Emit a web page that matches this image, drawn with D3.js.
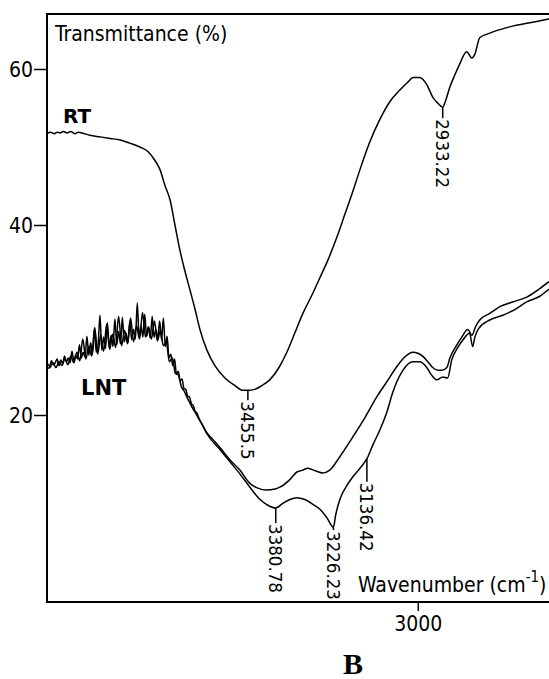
<!DOCTYPE html>
<html lang="en">
<head>
    <meta charset="UTF-8">
    <title>IR spectrum B</title>
    <script src="https://d3js.org/d3.v7.min.js"></script>
    <style>
        body { margin: 0; background: #fff; }
        text { font-family: "DejaVu Sans Condensed", "DejaVu Sans", sans-serif; font-stretch: condensed; fill: #000; }
        text.tag { font-family: "DejaVu Sans", sans-serif; font-stretch: normal; font-weight: bold; }
    </style>
</head>
<body>
<div id="chart"></div>
<script>
    // ---- data (wavenumber cm-1, transmittance %) ----
    const xTicks = [3000];
    const yTicks = [20, 40, 60];

    const rtSpectrum = [
        [3994, 51.7], [3985, 51.9], [3975, 51.7], [3966, 51.9], [3959, 51.8], [3950, 52.0],
        [3940, 51.8], [3930, 52.0], [3919, 51.7], [3910, 51.9], [3900, 51.8],
        [3879, 51.5], [3852, 51.3], [3825, 51.1], [3798, 50.9], [3772, 50.5], [3745, 50.0],
        [3723, 49.4], [3705, 48.3], [3691, 47.1], [3678, 45.1], [3664, 43.2], [3651, 40.0],
        [3638, 37.4], [3624, 35.1], [3611, 33.2], [3597, 31.1], [3584, 29.0], [3565, 26.8],
        [3544, 25.2], [3517, 23.9], [3490, 23.1], [3469, 22.6], [3455.5, 22.6], [3437, 22.7],
        [3418, 23.1], [3397, 23.7], [3372, 25.0], [3351, 26.6], [3330, 28.6], [3308, 30.7],
        [3284, 32.6], [3263, 34.4], [3241, 36.3], [3217, 38.7], [3196, 41.3], [3177, 43.9],
        [3155, 47.1], [3129, 50.6], [3102, 53.5], [3075, 55.8], [3048, 57.3], [3027, 58.3],
        [3013, 58.9], [2995, 58.9], [2976, 58.0], [2960, 56.4], [2946, 55.6], [2933.2, 55.1],
        [2925, 56.0], [2914, 57.7], [2901, 59.2], [2888, 60.6], [2869, 62.2], [2855, 61.4],
        [2847, 61.9], [2834, 64.0], [2807, 64.6], [2754, 65.4], [2692, 66.0], [2649, 66.4],
        [2620, 66.7]
    ];

    const lntUpper = [
        [3992, 25.4], [3987, 25.1], [3982, 25.7], [3977, 25.3], [3972, 25.5], [3967, 25.9],
        [3962, 25.2], [3957, 25.8], [3952, 25.4], [3947, 26.2], [3942, 25.6], [3937, 26.0],
        [3932, 25.5], [3927, 26.7], [3922, 25.7], [3917, 26.3], [3912, 25.9], [3907, 27.4],
        [3902, 26.0], [3897, 26.6], [3892, 26.1], [3887, 28.3], [3882, 26.3], [3877, 27.6],
        [3872, 26.4], [3867, 29.1], [3862, 26.6], [3857, 27.4], [3852, 30.5], [3847, 26.8],
        [3842, 28.2], [3837, 27.0], [3832, 29.7], [3827, 27.1], [3822, 28.4], [3817, 27.2],
        [3812, 30.1], [3807, 27.4], [3802, 28.8], [3797, 27.5], [3792, 30.3], [3787, 27.7],
        [3782, 28.6], [3777, 27.6], [3772, 29.9], [3767, 27.9], [3762, 29.0], [3757, 28.0],
        [3752, 31.8], [3747, 28.1], [3742, 29.4], [3737, 28.2], [3732, 30.6], [3727, 28.3],
        [3722, 29.2], [3717, 28.1], [3712, 30.4], [3707, 28.2], [3702, 29.0], [3697, 28.0],
        [3692, 29.9], [3687, 27.9], [3682, 30.2], [3677, 27.2], [3672, 28.3], [3667, 26.0],
        [3662, 26.4], [3657, 25.2], [3652, 25.9], [3647, 24.3], [3642, 24.6], [3637, 23.6],
        [3632, 23.8], [3627, 22.8], [3622, 22.7], [3617, 22.0], [3612, 21.9], [3607, 21.2],
        [3602, 21.0], [3597, 20.4], [3592, 20.2], [3587, 19.7], [3582, 19.3],
        [3565, 18.1], [3549, 17.4], [3531, 16.6], [3504, 15.3], [3477, 14.2], [3450, 12.8],
        [3429, 12.3], [3405, 12.1], [3383, 12.2], [3370, 12.4], [3343, 13.2], [3324, 14.0],
        [3308, 14.2], [3295, 14.4], [3273, 14.1], [3255, 13.9], [3236, 14.2], [3209, 15.6],
        [3174, 17.7], [3142, 19.7], [3110, 21.9], [3083, 23.5], [3056, 25.1], [3035, 26.1],
        [3013, 26.6], [3000, 26.5], [2987, 26.2], [2973, 25.6], [2960, 25.0], [2946, 24.7],
        [2936, 24.7], [2922, 25.0], [2914, 26.0], [2898, 27.2], [2882, 28.2], [2866, 29.0],
        [2855, 28.4], [2845, 29.3], [2834, 30.0], [2807, 30.7], [2780, 31.4], [2746, 31.9],
        [2708, 32.4], [2673, 33.3], [2649, 34.0], [2620, 34.5]
    ];

    const lntLower = [
        [3994, 24.9], [3986, 25.0], [3978, 25.5], [3970, 25.0], [3962, 25.6], [3954, 25.2],
        [3946, 25.9], [3938, 25.3], [3930, 26.2], [3922, 25.5], [3914, 26.6], [3906, 25.7],
        [3898, 28.0], [3890, 25.9], [3882, 27.2], [3874, 26.2], [3866, 29.2], [3858, 26.4],
        [3850, 28.4], [3842, 26.7], [3834, 29.6], [3826, 26.9], [3818, 28.5], [3810, 27.1],
        [3802, 30.4], [3794, 27.3], [3786, 28.9], [3778, 27.5], [3770, 30.2], [3762, 27.7],
        [3754, 29.4], [3746, 28.0], [3738, 30.8], [3730, 28.2], [3722, 29.3], [3714, 28.0],
        [3706, 29.9], [3698, 27.8], [3690, 28.9], [3682, 27.3], [3674, 27.6], [3666, 25.6],
        [3658, 26.0], [3650, 24.4], [3642, 24.2], [3634, 23.0], [3626, 22.5], [3618, 21.8],
        [3610, 21.2], [3602, 20.6], [3594, 20.1], [3586, 19.5], [3578, 19.0],
        [3565, 18.0], [3531, 16.4], [3504, 15.1], [3477, 13.8], [3450, 12.4], [3423, 11.1],
        [3402, 10.5], [3380.8, 10.2], [3362, 10.7], [3343, 11.1], [3324, 11.3], [3303, 11.1],
        [3281, 10.6], [3263, 10.1], [3244, 9.2], [3226.2, 8.2], [3220, 9.5], [3209, 11.1],
        [3190, 12.6], [3174, 13.5], [3155, 14.4], [3136.4, 15.4], [3121, 16.8], [3102, 18.4],
        [3083, 20.3], [3067, 22.4], [3040, 24.7], [3013, 25.6], [2995, 25.6], [2976, 25.0],
        [2963, 24.2], [2949, 23.7], [2933, 24.0], [2920, 23.9], [2909, 25.8], [2893, 27.1],
        [2879, 27.9], [2861, 28.6], [2853, 27.2], [2847, 28.2], [2837, 29.1], [2807, 30.0],
        [2772, 30.5], [2740, 31.1], [2708, 31.9], [2673, 32.5], [2649, 33.2], [2620, 33.7]
    ];

    const peakWaves = [3455.5, 3380.78, 3226.23, 3136.42, 2933.22];
    const peakT = [22.6, 10.2, 8.2, 15.4, 55.1];
    const peakLabels = ["3455.5", "3380.78", "3226.23", "3136.42", "2933.22"];
    const leaderLen = [10, 15, 3, 23, 11];

    // ---- layout ----
    const W = 549, H = 679;
    const mLeft = 47, mTop = 14, mBottom = 602;

    const svg = d3.select("#chart").append("svg")
        .attr("width", W).attr("height", H);

    const x = d3.scaleLinear().domain([3994, 2600]).range([mLeft, 567]);
    // the printed axis is not evenly spaced, so use a piecewise scale
    const y = d3.scaleLinear().domain([20, 40, 60]).range([415, 225, 69]);

    svg.append("clipPath").attr("id", "plot")
        .append("rect").attr("x", mLeft).attr("y", mTop)
        .attr("width", W - mLeft).attr("height", mBottom - mTop);

    // frame
    svg.append("path")
        .attr("d", `M${W + 5},${mTop} H${mLeft} V${mBottom} H${W + 5}`)
        .attr("fill", "none").attr("stroke", "#000").attr("stroke-width", 2);

    // axes
    const yAxis = svg.append("g")
        .attr("transform", `translate(${mLeft},0)`)
        .call(d3.axisLeft(y).tickValues(yTicks).tickSize(13).tickPadding(1));
    yAxis.select(".domain").remove();
    yAxis.selectAll("line").attr("stroke-width", 1.5);
    yAxis.selectAll("text").style("font-size", "21px").attr("dy", "0.36em");

    const xAxis = svg.append("g")
        .attr("transform", `translate(0,${mBottom})`)
        .call(d3.axisBottom(x).tickValues(xTicks).tickSize(9).tickPadding(5)
            .tickFormat(d3.format("d")));
    xAxis.select(".domain").remove();
    xAxis.selectAll("line").attr("stroke-width", 1.5);
    xAxis.selectAll("text").style("font-size", "21px");

    // curves
    const line = d3.line().x(d => x(d[0])).y(d => y(d[1])).curve(d3.curveMonotoneX);
    const curves = svg.append("g").attr("clip-path", "url(#plot)");
    [rtSpectrum, lntUpper, lntLower].forEach(s => {
        curves.append("path")
            .datum(s)
            .attr("d", line)
            .attr("fill", "none")
            .attr("stroke", "#000")
            .attr("stroke-width", 1.5)
            .attr("stroke-linejoin", "round");
    });

    // peak markers
    peakWaves.forEach((wn, i) => {
        const px = x(wn), py = y(peakT[i]);
        svg.append("line")
            .attr("x1", px).attr("x2", px)
            .attr("y1", py).attr("y2", py + leaderLen[i])
            .attr("stroke", "#000").attr("stroke-width", 1.5);
        svg.append("text")
            .attr("transform", `translate(${px},${py + leaderLen[i] + 1}) rotate(90)`)
            .attr("dy", "0.36em")
            .style("font-size", "18.5px")
            .text(peakLabels[i]);
    });

    // labels
    svg.append("text").attr("x", 55).attr("y", 41)
        .style("font-size", "21px").text("Transmittance (%)");

    const xl = svg.append("text").attr("x", 358).attr("y", 592)
        .style("font-size", "21px");
    xl.append("tspan").text("Wavenumber (cm");
    xl.append("tspan").attr("dy", -10).style("font-size", "15px").text("-1");
    xl.append("tspan").attr("dy", 10).text(")");

    svg.append("text").attr("class", "tag").attr("x", 63).attr("y", 123)
        .style("font-size", "20px").text("RT");
    svg.append("text").attr("class", "tag").attr("x", 81).attr("y", 395)
        .style("font-size", "21px").text("LNT");

    svg.append("text").attr("x", 353).attr("y", 674)
        .attr("text-anchor", "middle")
        .style("font-family", "'Liberation Serif', serif")
        .style("font-stretch", "normal")
        .style("font-size", "30px").style("font-weight", "bold")
        .text("B");
</script>
</body>
</html>
